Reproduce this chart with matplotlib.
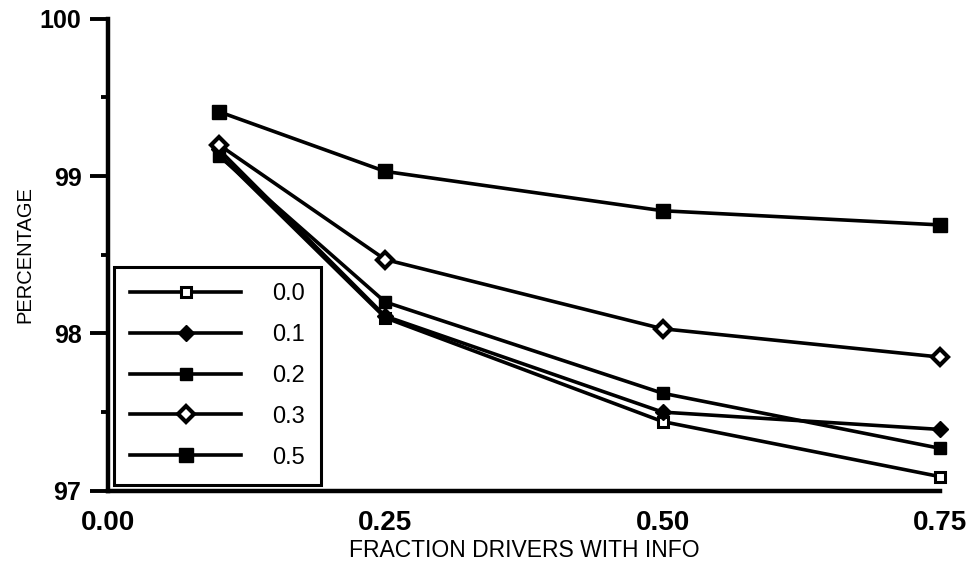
import matplotlib
matplotlib.use("Agg")
import matplotlib.pyplot as plt
from matplotlib.ticker import MultipleLocator

fractions = [0.10, 0.25, 0.50, 0.75]
series_labels = ["0.0", "0.1", "0.2", "0.3", "0.5"]
s00 = [99.14, 98.10, 97.44, 97.09]
s01 = [99.17, 98.11, 97.50, 97.39]
s02 = [99.13, 98.20, 97.62, 97.27]
s03 = [99.20, 98.47, 98.03, 97.85]
s05 = [99.41, 99.03, 98.78, 98.69]
xticks = [0.00, 0.25, 0.50, 0.75]
xticklabels = ["0.00", "0.25", "0.50", "0.75"]
yticks = [97, 98, 99, 100]

fig = plt.figure(figsize=(9.71, 5.70), dpi=100)
ax = fig.add_axes([0.111, 0.139, 0.857, 0.828])

styles = [
    dict(marker="s", mfc="white", mec="black", ms=7.5, mew=2.2),
    dict(marker="D", mfc="black", mec="black", ms=8),
    dict(marker="s", mfc="black", mec="black", ms=9),
    dict(marker="D", mfc="white", mec="black", ms=8, mew=3),
    dict(marker="s", mfc="black", mec="black", ms=9.5),
]
for vals, lab, st in zip([s00, s01, s02, s03, s05], series_labels, styles):
    ax.plot(fractions, vals, color="black", lw=2.6, label=lab, clip_on=False, **st)

ax.set_xlim(0, 0.75)
ax.set_ylim(97, 100)
ax.set_xticks(xticks)
ax.set_xticklabels(xticklabels)
ax.set_yticks(yticks)
ax.yaxis.set_minor_locator(MultipleLocator(0.5))
for s in ["top", "right"]:
    ax.spines[s].set_visible(False)
for s in ["left", "bottom"]:
    ax.spines[s].set_linewidth(3.2)
ax.tick_params(axis="y", which="major", length=13, width=2.8, labelsize=18, pad=6)
ax.tick_params(axis="y", which="minor", length=5, width=2.8)
ax.tick_params(axis="x", which="major", length=0, labelsize=20, pad=14)
for t in ax.get_xticklabels() + ax.get_yticklabels():
    t.set_fontweight("bold")
    t.set_family(["Liberation Sans", "DejaVu Sans"])

ax.set_xlabel("FRACTION DRIVERS WITH INFO", fontsize=16.5,
              family=["Liberation Sans Narrow", "Liberation Sans", "DejaVu Sans"], labelpad=2)
ax.set_ylabel("PERCENTAGE", fontsize=14.5,
              family=["Liberation Sans Narrow", "Liberation Sans", "DejaVu Sans"], labelpad=4)

leg = ax.legend(loc="lower left", bbox_to_anchor=(0.008, 0.013), handlelength=4.7,
                handletextpad=1.3, labelspacing=0.8, borderpad=0.68, borderaxespad=0,
                fancybox=False, frameon=True, edgecolor="black", framealpha=1,
                prop=dict(family=["Liberation Sans", "DejaVu Sans"], size=17))
leg.get_frame().set_linewidth(2.2)
leg.get_frame().set_facecolor("white")

fig.savefig("out.png", dpi=100, facecolor="white")
